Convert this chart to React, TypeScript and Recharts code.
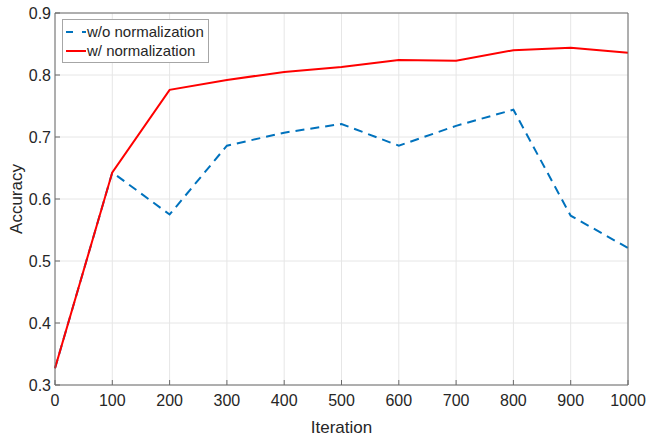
import { LineChart, Line, XAxis, YAxis, CartesianGrid, Legend } from 'recharts';

const iterations = [0, 100, 200, 300, 400, 500, 600, 700, 800, 900, 1000];
const withoutNorm = [0.327, 0.643, 0.575, 0.686, 0.707, 0.721, 0.686, 0.718, 0.744, 0.573, 0.521];
const withNorm = [0.327, 0.643, 0.776, 0.792, 0.805, 0.813, 0.824, 0.823, 0.84, 0.844, 0.836];
const xTicks = [0, 100, 200, 300, 400, 500, 600, 700, 800, 900, 1000];
const yTicks = [0.3, 0.4, 0.5, 0.6, 0.7, 0.8, 0.9];

const series = [
  { key: 'wo', name: 'w/o normalization', color: '#0072BD', dash: '9 6' },
  { key: 'w', name: 'w/ normalization', color: '#FF0000', dash: undefined as string | undefined },
];

const data = iterations.map((it, i) => ({ it, wo: withoutNorm[i], w: withNorm[i] }));

const FONT = '"Liberation Sans", Arial, Helvetica, sans-serif';
const TEXT = '#262626';
const AXIS = '#6b6b6b';

function LegendBox() {
  return (
    <div
      style={{
        background: '#fff',
        border: '1px solid #a6a6a6',
        padding: '2px 4px 2px 2px',
        fontFamily: FONT,
        fontSize: 15,
        color: TEXT,
        lineHeight: '19px',
      }}
    >
      {series.map((s) => (
        <div key={s.key} style={{ display: 'flex', alignItems: 'center', whiteSpace: 'nowrap' }}>
          <svg width={22} height={19} style={{ display: 'block' }}>
            <line x1={1} y1={10} x2={21} y2={10} stroke={s.color} strokeWidth={2} strokeDasharray={s.dash ? '7 9' : undefined} />
          </svg>
          <span>{s.name}</span>
        </div>
      ))}
    </div>
  );
}

function YLabel({ viewBox }: any) {
  const cx = viewBox.x + 16;
  const cy = viewBox.y + viewBox.height / 2;
  return (
    <text x={cx} y={cy} transform={`rotate(-90 ${cx} ${cy})`} textAnchor="middle" dominantBaseline="central" fill={TEXT} fontSize={17} fontFamily={FONT}>
      Accuracy
    </text>
  );
}

export default function App() {
  const tickStyle = { fill: TEXT, fontSize: 16, fontFamily: FONT };
  return (
    <div style={{ position: 'absolute', left: 0, top: 0, width: 647, height: 439, background: '#fff' }}>
      <LineChart width={647} height={439} data={data} margin={{ top: 12, right: 18, left: 0, bottom: 14 }}>
        <CartesianGrid stroke="#e6e6e6" strokeWidth={1} />
        <XAxis
          dataKey="it"
          type="number"
          domain={[0, 1000]}
          ticks={xTicks}
          height={40}
          tickSize={-5}
          tickMargin={15}
          stroke={AXIS}
          tick={tickStyle}
          interval={0}
          label={{ value: 'Iteration', position: 'insideBottom', offset: -8, fill: TEXT, fontSize: 17, fontFamily: FONT }}
        />
        <XAxis xAxisId="top" orientation="top" dataKey="it" type="number" domain={[0, 1000]} ticks={xTicks} height={1} tickSize={-5} tick={false} stroke={AXIS} interval={0} />
        <YAxis
          type="number"
          domain={[0.3, 0.9]}
          ticks={yTicks}
          width={55}
          tickSize={-5}
          tickMargin={9}
          stroke={AXIS}
          tick={tickStyle}
          interval={0}
          tickFormatter={(v: number) => v.toFixed(1)}
          label={<YLabel />}
        />
        <YAxis yAxisId="right" orientation="right" type="number" domain={[0.3, 0.9]} ticks={yTicks} width={1} tickSize={-5} tick={false} stroke={AXIS} interval={0} />
        <Legend
          layout="vertical"
          align="center"
          verticalAlign="middle"
          content={<LegendBox />}
          wrapperStyle={{ left: 62, top: 19, width: 'auto', height: 'auto' }}
        />
        {series.map((s) => (
          <Line
            key={s.key}
            dataKey={s.key}
            name={s.name}
            stroke={s.color}
            strokeWidth={2}
            strokeDasharray={s.dash}
            dot={false}
            activeDot={false}
            isAnimationActive={false}
          />
        ))}
      </LineChart>
    </div>
  );
}
